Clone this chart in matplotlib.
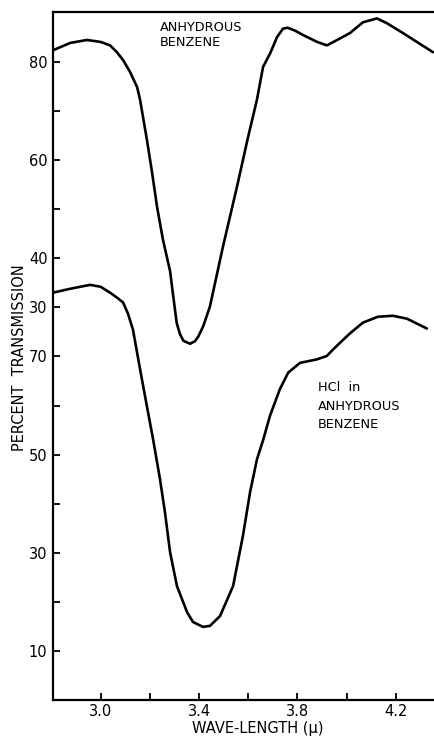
import matplotlib.pyplot as plt

# wave-length in microns
wl_benzene = [2.806, 2.876, 2.944, 3.000, 3.038, 3.066, 3.091, 3.119, 3.148,
              3.160, 3.172, 3.188, 3.209, 3.229, 3.253, 3.282, 3.293, 3.302,
              3.309, 3.322, 3.336, 3.363, 3.383, 3.397, 3.417, 3.444, 3.497,
              3.554, 3.599, 3.635, 3.660, 3.689, 3.717, 3.741, 3.760, 3.790,
              3.823, 3.880, 3.920, 3.961, 4.013, 4.066, 4.123, 4.164, 4.229,
              4.351]
# percent transmission (upper scale)
tr_benzene = [82.4, 83.9, 84.5, 84.1, 83.4, 82.0, 80.4, 78.0, 74.9,
              72.3, 68.8, 64.1, 57.4, 50.5, 43.8, 37.4, 33.0, 29.5,
              26.8, 24.6, 23.2, 22.6, 23.1, 24.1, 26.2, 30.2, 42.4,
              54.6, 64.7, 72.3, 79.0, 81.8, 85.1, 86.8, 87.0, 86.4,
              85.5, 84.1, 83.4, 84.5, 85.9, 88.1, 88.9, 87.9, 85.9,
              82.0]

wl_hcl = [2.806, 2.876, 2.957, 3.000, 3.038, 3.066, 3.091, 3.111, 3.131,
          3.160, 3.188, 3.213, 3.241, 3.261, 3.282, 3.310, 3.351, 3.375,
          3.416, 3.444, 3.485, 3.538, 3.578, 3.607, 3.635, 3.661, 3.688,
          3.728, 3.762, 3.810, 3.878, 3.919, 3.944, 3.973, 4.013, 4.066,
          4.127, 4.188, 4.245, 4.326]
# percent transmission (lower scale)
tr_hcl = [83.0, 83.8, 84.6, 84.2, 83.0, 82.0, 81.0, 78.7, 75.5,
          67.4, 59.8, 53.1, 45.0, 38.3, 30.1, 23.2, 17.9, 15.9,
          14.9, 15.1, 17.1, 23.2, 33.4, 42.3, 49.0, 53.1, 57.9,
          63.3, 66.7, 68.7, 69.4, 70.1, 71.4, 72.8, 74.7, 76.9,
          78.1, 78.3, 77.7, 75.7]

# upper curve is drawn on a scale shifted by 50 units
upper_offset = 50

x_ticks = [3.0, 3.2, 3.4, 3.6, 3.8, 4.0, 4.2]
x_labels = ['3.0', '', '3.4', '', '3.8', '', '4.2']

lower_ticks = [10, 30, 50, 70]
upper_ticks = [30, 40, 60, 80]
minor_lower = [20, 40, 60]
minor_upper = [50, 70]

plt.rcParams['font.family'] = 'DejaVu Sans'

fig = plt.figure(figsize=(4.35, 7.36), dpi=100)
ax = fig.add_axes([53 / 435, 36 / 736, 382 / 435, 688 / 736])

ax.plot(wl_benzene, [v + upper_offset for v in tr_benzene], color='black',
        lw=1.9, solid_joinstyle='round', solid_capstyle='round')
ax.plot(wl_hcl, tr_hcl, color='black', lw=1.9,
        solid_joinstyle='round', solid_capstyle='round')

ax.set_xlim(2.806, 4.359)
ax.set_ylim(0, 140.2)

ax.set_xticks(x_ticks)
ax.set_xticklabels(x_labels)

yt = lower_ticks + [u + upper_offset for u in upper_ticks]
ax.set_yticks(yt)
ax.set_yticklabels([str(v) for v in lower_ticks + upper_ticks])
ax.set_yticks(minor_lower + [u + upper_offset for u in minor_upper], minor=True)

ax.tick_params(axis='both', which='both', direction='in', length=5,
               width=1.3, labelsize=10.5, colors='black')
ax.tick_params(axis='x', pad=3)
ax.tick_params(axis='y', pad=4)

ax.spines['right'].set_visible(False)
for s in ['left', 'bottom', 'top']:
    ax.spines[s].set_linewidth(1.6)

fig.text(160 / 435, 1 - 21 / 736, 'ANHYDROUS\nBENZENE', fontsize=9.3,
         ha='left', va='top', linespacing=1.15)
fig.text(318 / 435, 1 - 381 / 736, 'HCl  in\nANHYDROUS\nBENZENE', fontsize=9.3,
         ha='left', va='top', linespacing=1.55)

fig.text(20 / 435, 1 - 358 / 736, 'PERCENT  TRANSMISSION', fontsize=10.5,
         rotation=90, ha='center', va='center')
fig.text(258 / 435, 1 - 728 / 736, 'WAVE-LENGTH (\u03bc)', fontsize=10.5,
         ha='center', va='center')

fig.savefig('out.png', dpi=100)
